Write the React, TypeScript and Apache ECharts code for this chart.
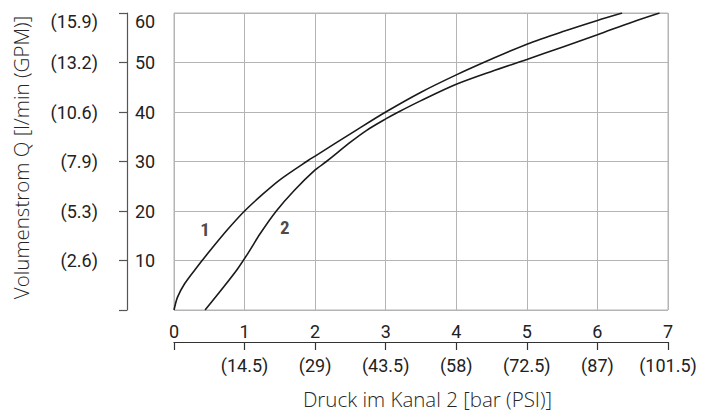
import React, { useEffect, useRef } from "react";
import * as echarts from "echarts";

const barTicks = [0, 1, 2, 3, 4, 5, 6, 7];
const psiLabels = ["", "(14.5)", "(29)", "(43.5)", "(58)", "(72.5)", "(87)", "(101.5)"];
const lpmTicks = [0, 10, 20, 30, 40, 50, 60];
const gpmLabels = ["", "(2.6)", "(5.3)", "(7.9)", "(10.6)", "(13.2)", "(15.9)"];

const curve1: [number, number][] = [
  [0, 0], [0.05, 2.6], [0.15, 5.3], [0.3, 8.2], [0.5, 11.8], [0.75, 16.1], [1, 20],
  [1.25, 23.3], [1.5, 26.3], [1.9, 30.2], [2, 31.1], [2.59, 36.4], [3, 40], [3.5, 44],
  [4, 47.5], [4.5, 50.7], [5, 53.7], [5.5, 56.2], [6, 58.5], [6.35, 60],
];
const curve2: [number, number][] = [
  [0.44, 0], [0.7, 4.6], [0.9, 8.3], [1.05, 11.5], [1.22, 15.4], [1.45, 20], [1.7, 24.1],
  [2, 28.3], [2.16, 30], [2.5, 33.9], [2.73, 36.3], [3, 38.6], [3.18, 40], [3.5, 42.3],
  [4, 45.6], [4.5, 48.2], [5, 50.6], [5.5, 53.1], [6, 55.6], [6.5, 58.2], [6.88, 60],
];
const curveLabels = [
  { name: "1", value: [0.44, 16.2] },
  { name: "2", value: [1.57, 16.6] },
];

const numFont = '"Roboto", sans-serif';
const boldFont = '"Roboto Condensed", "Roboto", sans-serif';
const nameFont = '"Open Sans", "Noto Sans", sans-serif';

export default function App() {
  const ref = useRef<HTMLDivElement>(null);
  useEffect(() => {
    if (!ref.current) return;
    const chart = echarts.init(ref.current, undefined, { renderer: "svg" });
    const gridColor = "#b4b4b4";
    const numColor = "#222";
    const nameColor = "#262626";
    const topRich = {
      t: { padding: [17, 0, 0, 0], fontSize: 18, fontFamily: numFont, color: numColor },
    };
    chart.setOption({
      animation: false,
      backgroundColor: "#fff",
      grid: [
        { left: 174, right: 34, top: 13, bottom: 102, show: true, borderColor: gridColor, borderWidth: 1 },
        { left: 174, right: 34, top: 341, height: 1, show: false },
      ],
      xAxis: [
        {
          type: "value", min: 0, max: 7, interval: 1, gridIndex: 0,
          axisLine: { show: false }, axisTick: { show: false },
          splitLine: { show: true, lineStyle: { color: gridColor, width: 1 } },
          axisLabel: {
            margin: 12, fontSize: 18, fontFamily: numFont, color: numColor,
            formatter: (v: number) => String(barTicks[Math.round(v)]),
          },
        },
        {
          type: "value", min: 0, max: 7, interval: 1, gridIndex: 1, position: "bottom",
          axisLine: { show: true, onZero: false, lineStyle: { color: "#333", width: 1.2 } },
          axisTick: { show: true, length: 8, lineStyle: { color: "#333", width: 1.2 } },
          splitLine: { show: false },
          axisLabel: {
            margin: 14, fontSize: 18, fontFamily: numFont, color: numColor,
            formatter: (v: number) => psiLabels[Math.round(v)] ?? "",
          },
          name: "Druck im Kanal 2 [bar (PSI)]",
          nameLocation: "middle", nameGap: 46,
          nameTextStyle: { fontSize: 20.5, fontWeight: 300, fontFamily: nameFont, color: nameColor, padding: [0, 0, 0, 13] },
        },
      ],
      yAxis: [
        {
          type: "value", min: 0, max: 60, interval: 10, gridIndex: 0,
          axisLine: { show: false }, axisTick: { show: false }, axisLabel: { show: false },
          splitLine: { show: true, lineStyle: { color: gridColor, width: 1 } },
        },
        {
          type: "value", min: 0, max: 60, interval: 10, gridIndex: 0, position: "left", offset: 47,
          axisLine: { show: true, onZero: false, lineStyle: { color: "#555", width: 1.2 } },
          axisTick: { show: true, inside: false, length: 8, lineStyle: { color: "#555", width: 1.2 } },
          splitLine: { show: false },
          axisLabel: {
            inside: true, margin: 8, fontSize: 18, fontFamily: numFont, color: numColor,
            formatter: (v: number) => {
              const i = lpmTicks.indexOf(v);
              if (v === 0) return "";
              if (v === 60) return "{t|" + lpmTicks[i] + "}";
              return String(lpmTicks[i]);
            },
            rich: topRich,
          },
        },
        {
          type: "value", min: 0, max: 60, interval: 10, gridIndex: 0, position: "left", offset: 47,
          axisLine: { show: false, onZero: false }, axisTick: { show: false }, splitLine: { show: false },
          axisLabel: {
            margin: 29, fontSize: 18, fontFamily: numFont, color: numColor,
            formatter: (v: number) => {
              const i = lpmTicks.indexOf(v);
              const s = gpmLabels[i] ?? "";
              if (v === 60) return "{t|" + s + "}";
              return s;
            },
            rich: topRich,
          },
          name: "Volumenstrom Q [l/min (GPM)]",
          nameLocation: "middle", nameGap: 96,
          nameTextStyle: { fontSize: 20.5, fontWeight: 300, fontFamily: nameFont, color: nameColor, padding: [0, 0, 0, 8] },
        },
        {
          type: "value", min: 0, max: 1, gridIndex: 1, show: false,
        },
      ],
      series: [
        {
          type: "line", data: curve1, smooth: 0.3, symbol: "none",
          lineStyle: { color: "#1a1a1a", width: 1.6 }, xAxisIndex: 0, yAxisIndex: 0,
        },
        {
          type: "line", data: curve2, smooth: 0.3, symbol: "none",
          lineStyle: { color: "#1a1a1a", width: 1.6 }, xAxisIndex: 0, yAxisIndex: 0,
        },
        {
          type: "scatter", data: curveLabels, symbolSize: 0, xAxisIndex: 0, yAxisIndex: 0,
          label: {
            show: true, position: "inside", formatter: "{b}",
            fontSize: 19, fontWeight: "bold", fontFamily: boldFont, color: "#1a1a1a",
          },
        },
      ],
    });
    return () => chart.dispose();
  }, []);
  return <div ref={ref} style={{ width: 702, height: 412, position: "absolute", left: 0, top: 0 }} />;
}
